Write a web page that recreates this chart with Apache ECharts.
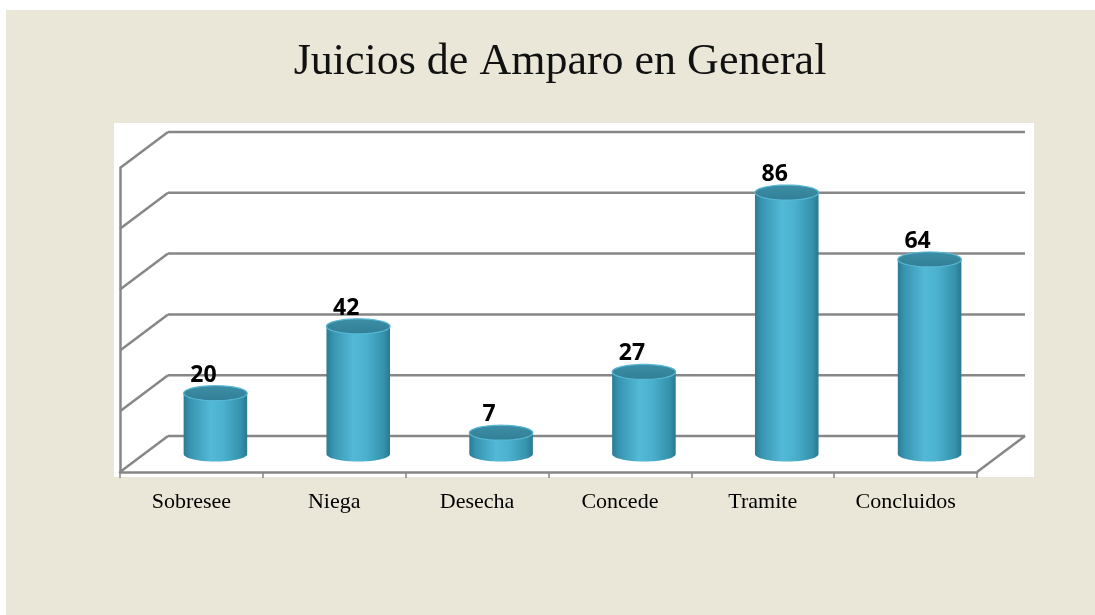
<!DOCTYPE html>
<html>
<head>
<meta charset="utf-8">
<script src="https://cdn.jsdelivr.net/npm/echarts@6/dist/echarts.min.js"></script>
<style>
html,body{margin:0;padding:0;background:#ffffff;}
#chart{width:1095px;height:615px;}
</style>
</head>
<body>
<div id="chart"></div>
<script>
var titleText = 'Juicios de Amparo en General';
var categories = ['Sobresee', 'Niega', 'Desecha', 'Concede', 'Tramite', 'Concluidos'];
var values = [20, 42, 7, 27, 86, 64];
var yTicks = [0, 20, 40, 60, 80, 100];

var DX = 48, DY = -36;       // depth of the 3D box (pixels)
var GRID_COLOR = '#878787';

function ellipsePoints(cx, cy, rx, ry, a0, a1, n) {
  var pts = [];
  for (var k = 0; k <= n; k++) {
    var a = a0 + (a1 - a0) * k / n;
    pts.push([cx + rx * Math.cos(a), cy + ry * Math.sin(a)]);
  }
  return pts;
}

var chart = echarts.init(document.getElementById('chart'), null, {renderer: 'canvas'});

var option = {
  backgroundColor: '#ffffff',
  animation: false,
  graphic: [
    {type: 'rect', z: -100, shape: {x: 6, y: 10, width: 1089, height: 605}, style: {fill: '#ebe7d8'}},
    {type: 'rect', z: -99, shape: {x: 114, y: 123, width: 920, height: 354}, style: {fill: '#ffffff'}},
    {type: 'text', z: 10, x: 560, y: 62, style: {text: titleText, align: 'center', verticalAlign: 'middle',
      font: '44px "Liberation Serif", serif', fill: '#111111'}}
  ],
  grid: {left: 120, right: 118, top: 168, bottom: 143, containLabel: false},
  xAxis: {
    type: 'category',
    data: categories,
    boundaryGap: true,
    axisLine: {show: true, lineStyle: {color: GRID_COLOR, width: 2.5}},
    axisTick: {show: true, length: 6, alignWithLabel: false, lineStyle: {color: GRID_COLOR, width: 1.5}},
    axisLabel: {show: true, margin: 19, color: '#000000', fontSize: 22, fontFamily: '"Liberation Serif", serif'},
    splitLine: {show: false}
  },
  yAxis: {
    type: 'value',
    min: 0, max: 100, interval: 20,
    axisLine: {show: true, lineStyle: {color: GRID_COLOR, width: 2.5}},
    axisTick: {show: false},
    axisLabel: {show: false},
    splitLine: {show: false}
  },
  series: [
    {
      type: 'custom',
      z: 1,
      silent: true,
      data: yTicks.map(function (v) { return [0, v]; }),
      encode: {x: 0, y: 1},
      renderItem: function (params, api) {
        var cs = params.coordSys;
        var v = api.value(1);
        var y = api.coord([0, v])[1];
        var x0 = cs.x, x1 = cs.x + cs.width;
        var style = {stroke: GRID_COLOR, lineWidth: 2.5, fill: null};
        var children = [
          {type: 'line', shape: {x1: x0, y1: y, x2: x0 + DX, y2: y + DY}, style: style},
          {type: 'line', shape: {x1: x0 + DX, y1: y + DY, x2: x1 + DX, y2: y + DY}, style: style}
        ];
        if (v === 0) {
          children.push({type: 'line', shape: {x1: x1, y1: y, x2: x1 + DX, y2: y + DY}, style: style});
        }
        return {type: 'group', children: children};
      }
    },
    {
      type: 'custom',
      z: 3,
      data: values.map(function (v, i) { return [i, v]; }),
      encode: {x: 0, y: 1},
      renderItem: function (params, api) {
        var i = api.value(0), v = api.value(1);
        var base = api.coord([i, 0]);
        var top = api.coord([i, v]);
        var w = api.size([1, 0])[0] * 0.445;
        var rx = w / 2, ry = 7.5;
        var cx = base[0] + DX / 2;
        var by = base[1] + DY / 2;
        var ty = top[1] + DY / 2;
        var bodyGrad = new echarts.graphic.LinearGradient(0, 0, 1, 0, [
          {offset: 0, color: '#2a7b93'},
          {offset: 0.1, color: '#3794b0'},
          {offset: 0.42, color: '#52b9d7'},
          {offset: 0.62, color: '#4bb1cf'},
          {offset: 0.9, color: '#3592ad'},
          {offset: 1, color: '#2a7890'}
        ]);
        // lower half of the bottom ellipse, from left (PI) through bottom (PI/2) to right (0)
        var bottomArc = ellipsePoints(cx, by, rx, ry, Math.PI, 0, 40);
        var bodyPts = [[cx - rx, ty]].concat(bottomArc).concat([[cx + rx, ty]]);
        var topPts = ellipsePoints(cx, ty, rx, ry, 0, Math.PI * 2, 60);
        var topGrad = new echarts.graphic.LinearGradient(0, 0, 0, 1, [
          {offset: 0, color: '#3c8ea6'},
          {offset: 1, color: '#317f96'}
        ]);
        return {
          type: 'group',
          children: [
            {type: 'polygon', shape: {points: bodyPts}, style: {fill: bodyGrad, stroke: null}},
            {type: 'polygon', shape: {points: topPts}, style: {fill: topGrad, stroke: '#58b8d4', lineWidth: 1.2}},
            {type: 'text', x: cx - 12, y: ty - 18, style: {
              text: String(v), align: 'center', verticalAlign: 'middle',
              font: 'bold 23px "Open Sans", sans-serif', fill: '#000000'}}
          ]
        };
      }
    }
  ]
};
chart.setOption(option);
</script>
</body>
</html>
